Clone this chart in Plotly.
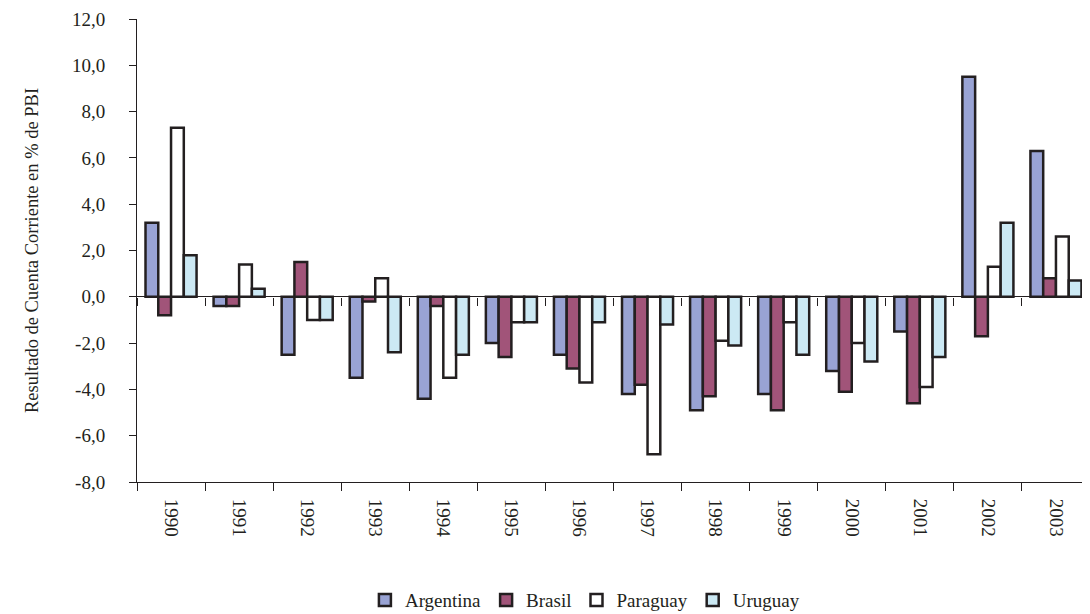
import plotly.graph_objects as go

years = ["1990", "1991", "1992", "1993", "1994", "1995", "1996",
         "1997", "1998", "1999", "2000", "2001", "2002", "2003"]

argentina = [3.2, -0.4, -2.5, -3.5, -4.4, -2.0, -2.5, -4.2, -4.9, -4.2, -3.2, -1.5, 9.5, 6.3]
brasil = [-0.8, -0.4, 1.5, -0.2, -0.4, -2.6, -3.1, -3.8, -4.3, -4.9, -4.1, -4.6, -1.7, 0.8]
paraguay = [7.3, 1.4, -1.0, 0.8, -3.5, -1.1, -3.7, -6.8, -1.9, -1.1, -2.0, -3.9, 1.3, 2.6]
uruguay = [1.8, 0.35, -1.0, -2.4, -2.5, -1.1, -1.1, -1.2, -2.1, -2.5, -2.8, -2.6, 3.2, 0.7]

y_ticks = [-8, -6, -4, -2, 0, 2, 4, 6, 8, 10, 12]
y_tick_labels = ["-8,0", "-6,0", "-4,0", "-2,0", "0,0", "2,0", "4,0", "6,0", "8,0", "10,0", "12,0"]

series = [
    ("Argentina", argentina, "#99a3d4"),
    ("Brasil", brasil, "#a15479"),
    ("Paraguay", paraguay, "#ffffff"),
    ("Uruguay", uruguay, "#cce9f4"),
]

serif = "'Liberation Serif', 'DejaVu Serif', serif"
ink = "#231f20"

fig = go.Figure()
for name, vals, col in series:
    fig.add_trace(go.Bar(
        x=years, y=vals, name=name,
        marker=dict(color=col, line=dict(color=ink, width=2.5)),
    ))

# category ticks hanging from the zero line
fig.add_trace(go.Scatter(x=[None], y=[None], xaxis="x2", showlegend=False, hoverinfo="skip"))

# page body has an 8px margin, so the figure is 8px smaller
fig.update_layout(
    width=1082, height=606,
    margin=dict(l=129, r=0, t=11, b=132, autoexpand=False),
    paper_bgcolor="white", plot_bgcolor="white",
    barmode="group", bargap=0.25, bargroupgap=0,
    font=dict(family=serif, size=19, color=ink),
    showlegend=True,
    legend=dict(orientation="h", x=0.47, xanchor="center", y=-0.255, yanchor="middle",
                font=dict(family=serif, size=19), tracegroupgap=0),
    xaxis=dict(
        type="category", showline=True, linecolor=ink, linewidth=1,
        ticks="outside", tickson="boundaries", ticklen=8, tickcolor=ink,
        tickangle=90, showgrid=False, tickfont=dict(family=serif, size=19),
        ticklabelstandoff=12, automargin=False,
    ),
    xaxis2=dict(
        overlaying="x", anchor="free", position=0.4, range=[-0.5, 13.5],
        tickvals=[i - 0.5 for i in range(len(years) + 1)],
        ticks="outside", ticklen=8, tickcolor=ink, showticklabels=False,
        showline=False, showgrid=False, zeroline=False,
    ),
    yaxis=dict(
        range=[-8, 12], tickmode="array", tickvals=y_ticks, ticktext=y_tick_labels,
        showline=True, linecolor=ink, linewidth=1,
        ticks="outside", ticklen=7, tickcolor=ink,
        showgrid=False, zeroline=True, zerolinecolor=ink, zerolinewidth=1,
        ticklabelstandoff=20, automargin=False,
        title=dict(text="Resultado de Cuenta Corriente en % de PBI",
                   font=dict(family=serif, size=18.5), standoff=28),
        tickfont=dict(family=serif, size=19),
    ),
)

fig.write_html("out.html")
